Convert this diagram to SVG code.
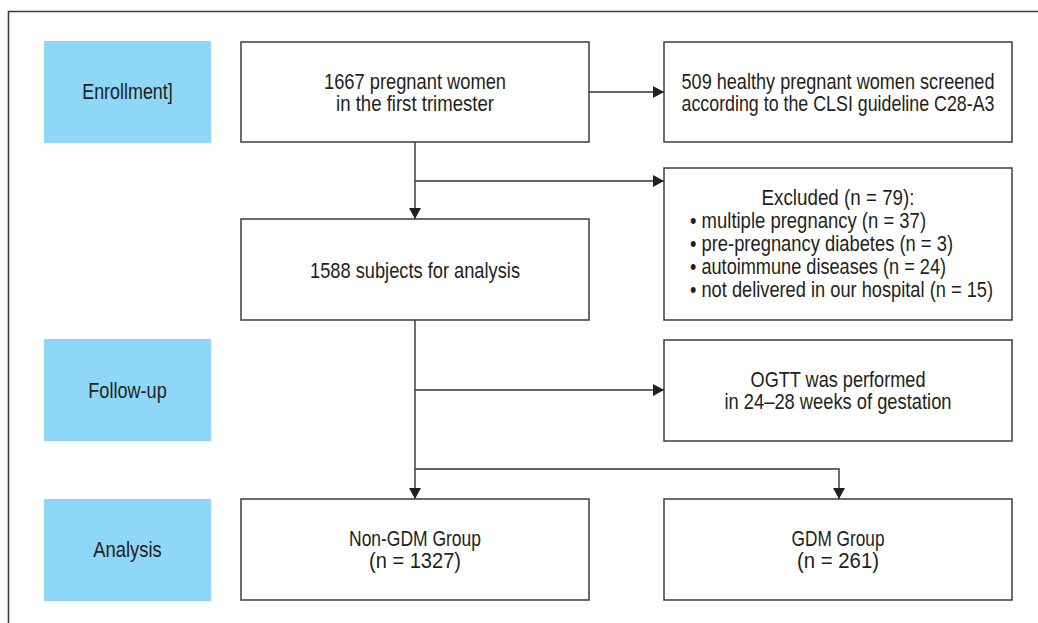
<svg xmlns="http://www.w3.org/2000/svg" width="1038" height="623" viewBox="0 0 1038 623">
  <style>
    .stage { fill: #8fd7f6; }
    .box { fill: #ffffff; stroke: #3c3c3c; stroke-width: 1.5; }
    .frame { fill: none; stroke: #3a3a3a; stroke-width: 1.6; }
    .wire { fill: none; stroke: #333333; stroke-width: 1.4; }
    text { font-family: "Liberation Sans", Arial, sans-serif; font-size: 21.5px; fill: #231f20; }
    .c { text-anchor: middle; }
  </style>
  <defs>
    <marker id="head" markerUnits="userSpaceOnUse" markerWidth="12" markerHeight="12" refX="11" refY="6" orient="auto">
      <path d="M0,0 L11,6 L0,12 Z" fill="#231f20"/>
    </marker>
  </defs>

  <rect width="1038" height="623" fill="#ffffff"/>
  <!-- outer frame (top and left edges) -->
  <path class="frame" d="M8.5,623 V11.5 H1038"/>

  <!-- stage labels; all text is horizontally condensed to 87% -->
  <g id="stage-enrollment">
    <rect class="stage" x="44" y="41" width="167" height="102"/>
    <text class="c" transform="translate(127.5,99) scale(0.87,1)" textLength="104.1" lengthAdjust="spacingAndGlyphs">Enrollment]</text>
  </g>
  <g id="stage-followup">
    <rect class="stage" x="44" y="339" width="167" height="102"/>
    <text class="c" transform="translate(127.5,397.5) scale(0.87,1)" textLength="90.1" lengthAdjust="spacingAndGlyphs">Follow-up</text>
  </g>
  <g id="stage-analysis">
    <rect class="stage" x="44" y="499" width="167" height="102"/>
    <text class="c" transform="translate(127.5,557) scale(0.87,1)" textLength="78.6" lengthAdjust="spacingAndGlyphs">Analysis</text>
  </g>

  <!-- connectors -->
  <g id="connectors">
    <line class="wire" x1="589" y1="92" x2="664" y2="92" marker-end="url(#head)"/>
    <line class="wire" x1="415" y1="142" x2="415" y2="219" marker-end="url(#head)"/>
    <line class="wire" x1="415" y1="181" x2="664" y2="181" marker-end="url(#head)"/>
    <line class="wire" x1="415" y1="320" x2="415" y2="499" marker-end="url(#head)"/>
    <line class="wire" x1="415" y1="390" x2="664" y2="390" marker-end="url(#head)"/>
    <polyline class="wire" points="415,469 839,469 839,499" marker-end="url(#head)"/>
  </g>

  <!-- flow boxes -->
  <g id="node-enrolled">
    <rect class="box" x="241" y="42" width="348" height="100"/>
    <text class="c" transform="translate(415,88.5) scale(0.87,1)" textLength="209.2" lengthAdjust="spacingAndGlyphs">1667 pregnant women</text>
    <text class="c" transform="translate(415,110.5) scale(0.87,1)" textLength="181.6" lengthAdjust="spacingAndGlyphs">in the first trimester</text>
  </g>
  <g id="node-reference">
    <rect class="box" x="664" y="42" width="348" height="100"/>
    <text class="c" transform="translate(838,88.5) scale(0.87,1)" textLength="359.8" lengthAdjust="spacingAndGlyphs">509 healthy pregnant women screened</text>
    <text class="c" transform="translate(838,110.5) scale(0.87,1)" textLength="359.8" lengthAdjust="spacingAndGlyphs">according to the CLSI guideline C28-A3</text>
  </g>
  <g id="node-analysed">
    <rect class="box" x="241" y="219" width="348" height="101"/>
    <text class="c" transform="translate(415,277.5) scale(0.87,1)" textLength="241.4" lengthAdjust="spacingAndGlyphs">1588 subjects for analysis</text>
  </g>
  <g id="node-excluded">
    <rect class="box" x="664" y="168" width="348" height="152"/>
    <text class="c" transform="translate(838,204.5) scale(0.87,1)" textLength="175.9" lengthAdjust="spacingAndGlyphs">Excluded (n = 79):</text>
    <text transform="translate(690,227.5) scale(0.87,1)" textLength="271.3" lengthAdjust="spacingAndGlyphs">• multiple pregnancy (n = 37)</text>
    <text transform="translate(690,250.5) scale(0.87,1)" textLength="302.3" lengthAdjust="spacingAndGlyphs">• pre-pregnancy diabetes (n = 3)</text>
    <text transform="translate(690,273.5) scale(0.87,1)" textLength="294.3" lengthAdjust="spacingAndGlyphs">• autoimmune diseases (n = 24)</text>
    <text transform="translate(690,296.5) scale(0.87,1)" textLength="348.3" lengthAdjust="spacingAndGlyphs">• not delivered in our hospital (n = 15)</text>
  </g>
  <g id="node-ogtt">
    <rect class="box" x="664" y="340" width="348" height="101"/>
    <text class="c" transform="translate(838,387) scale(0.87,1)" textLength="201.1" lengthAdjust="spacingAndGlyphs">OGTT was performed</text>
    <text class="c" transform="translate(838,409) scale(0.87,1)" textLength="260.9" lengthAdjust="spacingAndGlyphs">in 24–28 weeks of gestation</text>
  </g>
  <g id="node-nongdm">
    <rect class="box" x="241" y="499" width="348" height="101"/>
    <text class="c" transform="translate(415,546) scale(0.87,1)" textLength="151.7" lengthAdjust="spacingAndGlyphs">Non-GDM Group</text>
    <text class="c" transform="translate(415,568) scale(0.87,1)" textLength="105.7" lengthAdjust="spacingAndGlyphs">(n = 1327)</text>
  </g>
  <g id="node-gdm">
    <rect class="box" x="664" y="499" width="348" height="101"/>
    <text class="c" transform="translate(838,546) scale(0.87,1)" textLength="106.9" lengthAdjust="spacingAndGlyphs">GDM Group</text>
    <text class="c" transform="translate(838,568) scale(0.87,1)" textLength="94.3" lengthAdjust="spacingAndGlyphs">(n = 261)</text>
  </g>
</svg>
